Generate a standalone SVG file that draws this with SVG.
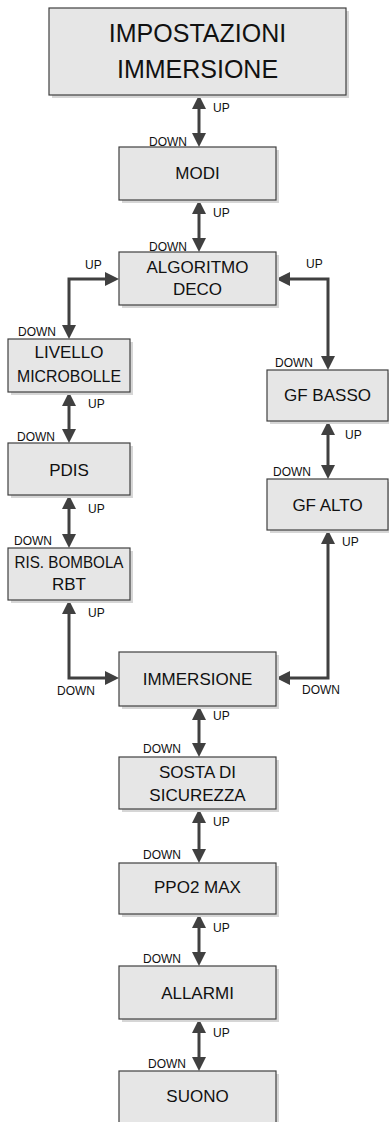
<svg xmlns="http://www.w3.org/2000/svg" width="389" height="1122" viewBox="0 0 389 1122">
<style>
.sh{fill:#d6d6d6;stroke:none}
.bx{fill:#e6e6e6;stroke:#404040;stroke-width:1.2}
.t{font-family:"Liberation Sans",Arial,sans-serif;font-size:17px;fill:#111;text-anchor:middle}
.big{font-size:25px}
.lb{font-family:"Liberation Sans",Arial,sans-serif;font-size:12px;fill:#111}
.c{fill:none;stroke:#404040;stroke-width:3;marker-start:url(#ah);marker-end:url(#ah)}
</style>
<defs>
<marker id="ah" viewBox="0 0 14 14" refX="10" refY="7" markerWidth="14" markerHeight="14" markerUnits="userSpaceOnUse" orient="auto-start-reverse">
<path d="M0,0 L14,7 L0,14 z" fill="#404040"/>
</marker>
</defs>
<rect width="389" height="1122" fill="#fff"/>
<g id="connectors">
<path class="c" d="M199,99 V143"/>
<path class="c" d="M199,204 V248"/>
<path class="c" d="M115,279 H69 V335"/>
<path class="c" d="M280,279 H328 V366"/>
<path class="c" d="M69,396 V439"/>
<path class="c" d="M69,499 V544"/>
<path class="c" d="M328,425 V475"/>
<path class="c" d="M69,604 V678 H115"/>
<path class="c" d="M328,534 V678 H280"/>
<path class="c" d="M199,710 V753"/>
<path class="c" d="M199,813 V859"/>
<path class="c" d="M199,918 V962"/>
<path class="c" d="M199,1023 V1067"/>
</g>
<g id="labels">
<text class="lb" x="213" y="112">UP</text><text class="lb" x="149" y="146">DOWN</text>
<text class="lb" x="213" y="217">UP</text><text class="lb" x="149" y="251">DOWN</text>
<text class="lb" x="85" y="269">UP</text><text class="lb" x="18" y="336">DOWN</text>
<text class="lb" x="306" y="268">UP</text><text class="lb" x="275" y="367">DOWN</text>
<text class="lb" x="88" y="408">UP</text><text class="lb" x="17" y="441">DOWN</text>
<text class="lb" x="345" y="439">UP</text><text class="lb" x="273" y="476">DOWN</text>
<text class="lb" x="88" y="513">UP</text><text class="lb" x="14" y="545">DOWN</text>
<text class="lb" x="342" y="546">UP</text>
<text class="lb" x="88" y="617">UP</text><text class="lb" x="57" y="695">DOWN</text>
<text class="lb" x="302" y="694">DOWN</text>
<text class="lb" x="213" y="720">UP</text><text class="lb" x="143" y="753">DOWN</text>
<text class="lb" x="213" y="826">UP</text><text class="lb" x="143" y="859">DOWN</text>
<text class="lb" x="213" y="932">UP</text><text class="lb" x="143" y="963">DOWN</text>
<text class="lb" x="213" y="1037">UP</text><text class="lb" x="148" y="1068">DOWN</text>
</g>
<g id="n-impostazioni"><rect class="sh" x="52" y="11" width="297" height="87"/><rect class="bx" x="49" y="8" width="297" height="87"/><text class="t big" x="197.5" y="42">IMPOSTAZIONI</text><text class="t big" x="197.5" y="78">IMMERSIONE</text></g>
<g id="n-modi"><rect class="sh" x="122" y="150" width="157" height="53"/><rect class="bx" x="119" y="147" width="157" height="53"/><text class="t" x="197.5" y="179">MODI</text></g>
<g id="n-algoritmo"><rect class="sh" x="122" y="255" width="157" height="53"/><rect class="bx" x="119" y="252" width="157" height="53"/><text class="t" x="197.5" y="273">ALGORITMO</text><text class="t" x="197.5" y="295">DECO</text></g>
<g id="n-livello"><rect class="sh" x="11" y="342" width="122" height="53"/><rect class="bx" x="8" y="339" width="122" height="53"/><text class="t" x="69" y="358">LIVELLO</text><text class="t" x="69" y="382" textLength="104" lengthAdjust="spacingAndGlyphs">MICROBOLLE</text></g>
<g id="n-gfbasso"><rect class="sh" x="270" y="373" width="121" height="51"/><rect class="bx" x="267" y="370" width="121" height="51"/><text class="t" x="327.5" y="401">GF BASSO</text></g>
<g id="n-gfalto"><rect class="sh" x="270" y="482" width="121" height="51"/><rect class="bx" x="267" y="479" width="121" height="51"/><text class="t" x="327.5" y="511">GF ALTO</text></g>
<g id="n-pdis"><rect class="sh" x="11" y="446" width="122" height="52"/><rect class="bx" x="8" y="443" width="122" height="52"/><text class="t" x="69" y="476">PDIS</text></g>
<g id="n-ris"><rect class="sh" x="11" y="551" width="122" height="52"/><rect class="bx" x="8" y="548" width="122" height="52"/><text class="t" x="69" y="568" textLength="109" lengthAdjust="spacingAndGlyphs">RIS. BOMBOLA</text><text class="t" x="69" y="590">RBT</text></g>
<g id="n-immersione"><rect class="sh" x="122" y="655" width="157" height="54"/><rect class="bx" x="119" y="652" width="157" height="54"/><text class="t" x="197.5" y="685">IMMERSIONE</text></g>
<g id="n-sosta"><rect class="sh" x="122" y="760" width="157" height="52"/><rect class="bx" x="119" y="757" width="157" height="52"/><text class="t" x="197.5" y="778">SOSTA DI</text><text class="t" x="197.5" y="801">SICUREZZA</text></g>
<g id="n-ppo2"><rect class="sh" x="122" y="866" width="157" height="51"/><rect class="bx" x="119" y="863" width="157" height="51"/><text class="t" x="197.5" y="893">PPO2 MAX</text></g>
<g id="n-allarmi"><rect class="sh" x="122" y="969" width="157" height="53"/><rect class="bx" x="119" y="966" width="157" height="53"/><text class="t" x="197.5" y="999">ALLARMI</text></g>
<g id="n-suono"><rect class="sh" x="122" y="1074" width="157" height="55"/><rect class="bx" x="119" y="1071" width="157" height="55"/><text class="t" x="197.5" y="1102">SUONO</text></g>
</svg>
